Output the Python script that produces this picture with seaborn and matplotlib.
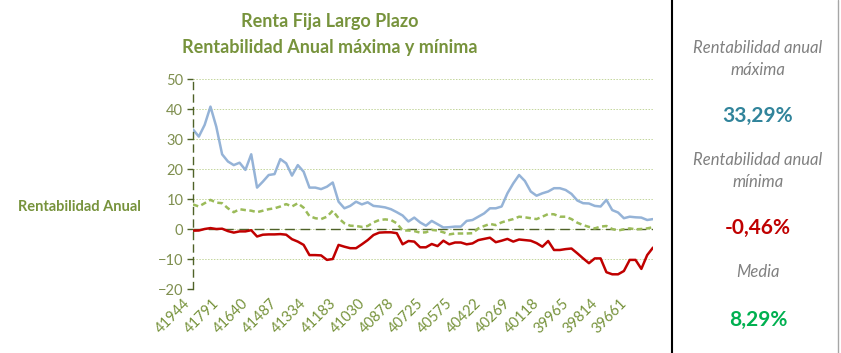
import numpy as np
import pandas as pd
import matplotlib
matplotlib.use("Agg")
import matplotlib.pyplot as plt
import seaborn as sns

sns.set_style("white")
plt.rcParams["font.family"] = ["Lato", "DejaVu Sans"]

# monthly dates, newest first (Excel serial numbers on the axis)
fechas = pd.date_range(end="2014-11-01", periods=80, freq="MS")[::-1]
serial = list((fechas - pd.Timestamp("1899-12-30")).days)

maxima = [33.29, 30.9, 34.8, 40.9, 34.2, 25.0, 22.6, 21.4, 22.2, 19.8,
          25.0, 13.9, 15.9, 18.1, 18.4, 23.4, 22.0, 17.9, 21.4, 19.2,
          13.9, 13.9, 13.4, 14.2, 15.6, 9.2, 7.0, 7.8, 9.2, 8.3,
          9.0, 7.8, 7.6, 7.3, 6.7, 5.7, 4.6, 2.6, 3.9, 2.3,
          1.2, 2.8, 1.7, 0.6, 0.7, 0.9, 0.9, 2.8, 3.1, 4.2,
          5.3, 7.0, 7.0, 7.6, 12.0, 15.3, 18.1, 16.1, 12.6, 11.2,
          12.0, 12.6, 13.7, 13.7, 13.1, 11.8, 9.6, 8.7, 8.6, 7.8,
          7.6, 9.8, 6.4, 5.6, 3.7, 4.2, 4.0, 3.9, 3.1, 3.4]
media = [8.29, 7.6, 8.7, 9.8, 8.9, 8.7, 7.0, 5.7, 6.7, 6.4,
         6.2, 5.7, 6.2, 6.7, 7.0, 7.6, 8.4, 7.6, 8.7, 7.2,
         4.4, 3.7, 3.4, 4.2, 6.2, 3.7, 2.0, 1.2, 1.1, 0.8,
         1.1, 2.3, 3.1, 3.3, 3.1, 2.0, -0.4, -0.4, -0.6, -1.1,
         -1.0, -0.2, -0.4, -1.0, -1.7, -1.4, -1.4, -1.4, -1.3, 0.3,
         1.1, 1.8, 1.4, 2.3, 2.9, 3.4, 4.2, 4.0, 3.7, 3.4,
         4.2, 5.1, 5.0, 4.2, 4.2, 3.4, 2.2, 1.4, 0.8, 0.3,
         0.9, 1.1, 0.1, -0.4, 0.0, 0.3, 0.0, 0.1, 0.3, 0.7]
minima = [-0.46, -0.4, 0.1, 0.4, 0.1, 0.2, -0.6, -1.1, -0.7, -0.7,
          -0.3, -2.4, -1.8, -1.7, -1.7, -1.6, -1.8, -3.3, -4.1, -5.2,
          -8.6, -8.6, -8.7, -10.2, -9.9, -5.2, -5.8, -6.3, -6.3, -5.0,
          -3.6, -1.9, -1.1, -1.0, -1.0, -1.3, -5.0, -3.9, -4.1, -6.0,
          -6.0, -4.9, -5.6, -3.8, -5.0, -4.4, -4.4, -5.0, -4.7, -3.6,
          -3.2, -2.8, -4.3, -3.8, -3.2, -4.1, -3.4, -3.6, -3.8, -4.6,
          -5.8, -3.9, -6.9, -6.9, -6.6, -6.4, -8.0, -9.7, -11.3, -9.7,
          -9.7, -14.3, -15.0, -15.0, -13.9, -10.2, -10.2, -13.2, -8.6, -6.1]

resumen_titulos = ["Rentabilidad anual\nmáxima", "Rentabilidad anual\nmínima", "Media"]
resumen_valores = ["33,29%", "-0,46%", "8,29%"]

olive = "#77933C"
n = len(serial)
df = pd.DataFrame({
    "pos": list(range(n)) * 3,
    "valor": maxima + media + minima,
    "serie": ["max"] * n + ["media"] * n + ["min"] * n,
})

fig = plt.figure(figsize=(8.41, 3.53), dpi=100)
ax = fig.add_axes([193 / 841, 1 - 289.3 / 353, 460 / 841, 210 / 353])

sns.lineplot(data=df, x="pos", y="valor", hue="serie", style="serie",
             palette={"max": "#95B3D7", "media": "#9BBB59", "min": "#C00000"},
             dashes={"max": "", "media": (2.2, 1.4), "min": ""},
             linewidth=1.8, legend=False, ax=ax)

ax.set_xlim(0, n - 1)
ax.set_ylim(-20, 50)
ax.set_yticks(range(-20, 51, 10))
ax.grid(axis="y", color="#C3D69B", linestyle=(0, (1.5, 1.5)), linewidth=0.7)
ax.set_axisbelow(True)
ax.axhline(0, color="#4F6228", linestyle=(0, (7, 4)), linewidth=1.0, zorder=1)

for s in ["top", "right", "bottom"]:
    ax.spines[s].set_visible(False)
ax.spines["left"].set_color("#4F6228")
ax.spines["left"].set_linestyle((0, (5, 4)))
ax.spines["left"].set_linewidth(1.0)

ax.set_xticks(range(0, n, 5))
ax.set_xticklabels([str(serial[i]) for i in range(0, n, 5)], rotation=45,
                   ha="right", va="top", color=olive, fontsize=10.5)
ax.tick_params(axis="x", length=0, pad=5)
ax.tick_params(axis="y", left=True, length=4, width=1, color="#4F6228",
               labelcolor="#7F8F4F", labelsize=10.5, pad=3)
ax.set_xlabel("")
ax.set_ylabel("")

fig.text(79 / 841, 1 - 207 / 353, "Rentabilidad Anual", ha="center", va="center",
         color=olive, fontsize=10.5, fontweight="bold")
fig.text(330 / 841, 1 - 22 / 353, "Renta Fija Largo Plazo", ha="center", va="center",
         color=olive, fontsize=13, fontweight="bold")
fig.text(330 / 841, 1 - 47 / 353, "Rentabilidad Anual máxima y mínima", ha="center",
         va="center", color=olive, fontsize=13, fontweight="bold")

# right-hand summary panel
fig.add_artist(plt.Line2D([672 / 841, 672 / 841], [0, 1], color="black", linewidth=1.5))
fig.add_artist(plt.Line2D([838 / 841, 838 / 841], [0, 1], color="#A6A6A6", linewidth=1.0))
cx = 758 / 841
title_y = [59, 171, 272]
value_y = [116, 228, 320]
value_col = ["#31849B", "#C00000", "#00B050"]
for t, ty, v, vy, c in zip(resumen_titulos, title_y, resumen_valores, value_y, value_col):
    fig.text(cx, 1 - ty / 353, t, ha="center", va="center", color="#808080",
             fontsize=12, style="italic", linespacing=1.45)
    fig.text(cx, 1 - vy / 353, v, ha="center", va="center", color=c,
             fontsize=15, fontweight="bold")

fig.savefig("out.png", dpi=100)
